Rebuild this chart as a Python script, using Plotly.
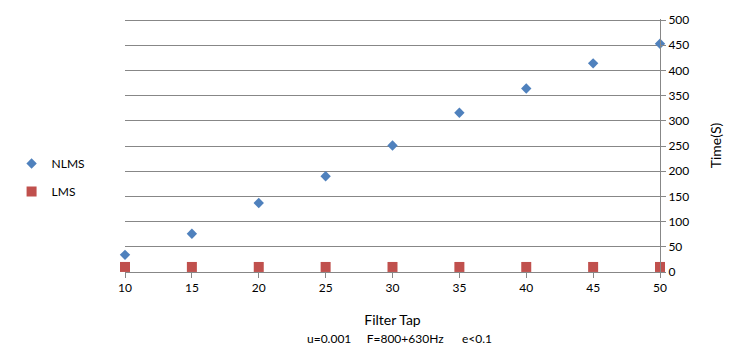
import plotly.graph_objects as go

filter_taps = [10, 15, 20, 25, 30, 35, 40, 45, 50]
nlms_time = [34, 76, 137, 190, 251, 316, 364, 414, 453]
lms_time = [10, 10, 10, 10, 10, 10, 10, 10, 10]
y_ticks = [0, 50, 100, 150, 200, 250, 300, 350, 400, 450, 500]

FONT = "Lato"
GRID = "#878787"

fig = go.Figure()
fig.add_trace(go.Scatter(
    x=filter_taps, y=nlms_time, mode="markers", name="NLMS",
    marker=dict(symbol="diamond", size=8, color="#4F81BD"),
    legend="legend", showlegend=True, cliponaxis=False,
))
fig.add_trace(go.Scatter(
    x=filter_taps, y=lms_time, mode="markers", name="LMS",
    marker=dict(symbol="square", size=10, color="#C0504D"),
    legend="legend2", showlegend=True, cliponaxis=False,
))

fig.update_layout(
    width=744, height=354,
    margin=dict(l=122, r=84, t=12, b=82),
    paper_bgcolor="white", plot_bgcolor="white",
    showlegend=True,
    font=dict(family=FONT, size=12, color="black"),
    xaxis=dict(
        range=[10, 50], tickvals=filter_taps, showgrid=False, zeroline=False,
        showline=True, linecolor=GRID, linewidth=1,
        ticks="outside", ticklen=5, tickcolor=GRID,
        title=dict(text="Filter Tap", standoff=20),
    ),
    yaxis=dict(
        side="right", range=[0, 502], tickvals=y_ticks,
        showgrid=True, gridcolor=GRID, gridwidth=1, zeroline=False,
        showline=True, linecolor=GRID, linewidth=1,
        ticks="outside", ticklen=5, tickcolor=GRID,
        title=dict(text="Time(S)", standoff=22),
    ),
    legend=dict(x=-0.212, y=0.429, xanchor="left", yanchor="middle",
                bgcolor="rgba(0,0,0,0)", font=dict(size=12)),
    legend2=dict(x=-0.212, y=0.3185, xanchor="left", yanchor="middle",
                 bgcolor="rgba(0,0,0,0)", font=dict(size=12)),
    annotations=[dict(
        text="u=0.001&nbsp;&nbsp;&nbsp;&nbsp;&nbsp;F=800+630Hz&nbsp;&nbsp;&nbsp;&nbsp;&nbsp;&nbsp;e<0.1",
        xref="paper", yref="paper", x=(398 - 122) / 538, y=(271.7 - 340) / 259.7,
        xanchor="center", yanchor="middle", showarrow=False,
        font=dict(size=12),
    )],
)

fig.write_html("out.html")
